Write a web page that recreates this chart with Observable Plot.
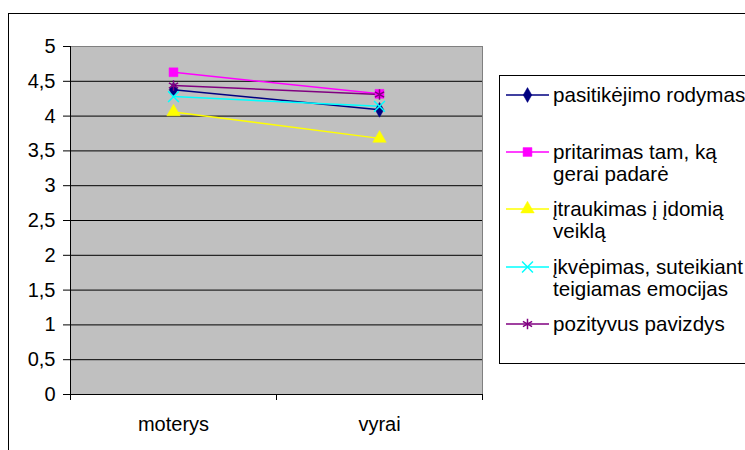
<!DOCTYPE html>
<html>
<head>
<meta charset="utf-8">
<script src="https://cdn.jsdelivr.net/npm/d3@7"></script>
<script src="https://cdn.jsdelivr.net/npm/@observablehq/plot@0.6"></script>
<style>
  body { margin: 0; background: white; }
  #wrap { position: relative; width: 745px; height: 450px; overflow: hidden; background: white;
          font-family: "Liberation Sans", Arial, sans-serif; }
  #chart { position: absolute; left: 0; top: 0; }
  #outer { position: absolute; left: 8px; top: 13px; width: 900px; height: 600px; border: 1px solid #000; pointer-events: none; }
  #legend { position: absolute; left: 499px; top: 75px; width: 400px; height: 287px; border: 1px solid #000; background: white; }
  .entry { position: absolute; left: 6px; display: flex; align-items: flex-start; }
  .entry svg { flex: none; }
  .entry span { font-size: 20.6px; line-height: 22px; white-space: pre; color: #000; margin-left: 4px; }
</style>
</head>
<body>
<div id="wrap">
  <div id="chart"></div>
  <div id="legend"></div>
  <div id="outer"></div>
</div>
<script>
const categories = ["moterys", "vyrai"];
const seriesNames = [
  "pasitikėjimo rodymas",
  "pritarimas tam, ką\ngerai padarė",
  "įtraukimas į įdomią\nveiklą",
  "įkvėpimas, suteikiant\nteigiamas emocijas",
  "pozityvus pavizdys"
];
const pasitikejimo = [4.38, 4.09];
const pritarimas = [4.63, 4.32];
const itraukimas = [4.06, 3.68];
const ikvepimas = [4.28, 4.14];
const pozityvus = [4.44, 4.31];
const seriesValues = [pasitikejimo, pritarimas, itraukimas, ikvepimas, pozityvus];
const seriesColors = ["#000080", "#ff00ff", "#ffff00", "#00ffff", "#800080"];
const seriesSymbols = ["diamond", "square", "triangle", "times", "asterisk"];
const yTicks = [0, 0.5, 1, 1.5, 2, 2.5, 3, 3.5, 4, 4.5, 5];

const filledSymbols = new Set(["diamond", "square", "triangle"]);
const d3Symbols = {diamond: d3.symbolDiamond, square: d3.symbolSquare, triangle: d3.symbolTriangle, times: d3.symbolTimes, asterisk: d3.symbolAsterisk};
const symbolR = {diamond: 4.5, square: 5, triangle: 5, times: 5, asterisk: 5};

const rows = [];
seriesNames.forEach((s, si) => {
  categories.forEach((c, ci) => rows.push({series: si, cat: ci + 0.5, value: seriesValues[si][ci]}));
});

const marks = [
  Plot.frame({fill: "#c0c0c0", stroke: "#808080"}),
  Plot.ruleY(yTicks.filter(t => t > 0 && t < 5), {stroke: "#000", strokeWidth: 1}),
  Plot.ruleY([0], {stroke: "#000"}),
  Plot.ruleX([0], {stroke: "#000"}),
  Plot.axisY({ticks: yTicks, tickSize: 7, tickPadding: 8, tickFormat: d => String(d).replace(".", ","), label: null, fontSize: 20}),
  Plot.axisX({ticks: d3.range(categories.length + 1), tickSize: 6, tickFormat: () => "", label: null}),
  Plot.axisX({ticks: categories.map((c, i) => i + 0.5), tickSize: 0, tickPadding: 22, tickFormat: d => categories[d - 0.5], label: null, fontSize: 20})
];
seriesNames.forEach((s, si) => {
  const data = rows.filter(r => r.series === si);
  marks.push(Plot.line(data, {x: "cat", y: "value", stroke: seriesColors[si], strokeWidth: 1.5}));
});
seriesNames.forEach((s, si) => {
  const data = rows.filter(r => r.series === si);
  const sym = seriesSymbols[si];
  const filled = filledSymbols.has(sym);
  marks.push(Plot.dot(data, {x: "cat", y: "value", symbol: sym, r: symbolR[sym],
    fill: filled ? seriesColors[si] : "none", stroke: seriesColors[si], strokeWidth: filled ? 0.5 : 1.5}));
});

const chart = Plot.plot({
  width: 745, height: 450,
  marginLeft: 70, marginRight: 263, marginTop: 46, marginBottom: 56,
  x: {type: "linear", domain: [0, categories.length]},
  y: {domain: [0, 5]},
  style: {fontFamily: "Liberation Sans, Arial, sans-serif", fontSize: "20px", color: "#000", background: "transparent"},
  marks
});
document.getElementById("chart").appendChild(chart);

// legend
const legend = document.getElementById("legend");
const entryTops = [0, 1, 2, 3, 4].map(i => 8 + i * 57.2);
seriesNames.forEach((s, si) => {
  const div = document.createElement("div");
  div.className = "entry";
  div.style.top = entryTops[si] + "px";
  const sym = seriesSymbols[si];
  const filled = filledSymbols.has(sym);
  const r = symbolR[sym];
  const path = d3.symbol(d3Symbols[sym], r * r * Math.PI)();
  div.innerHTML = `<svg width="43" height="22"><line x1="0" x2="43" y1="11" y2="11" stroke="${seriesColors[si]}" stroke-width="1.5"/>` +
    `<path transform="translate(21.5,11)" d="${path}" fill="${filled ? seriesColors[si] : "none"}" stroke="${seriesColors[si]}" stroke-width="${filled ? 0.5 : 1.5}"/></svg>`;
  const span = document.createElement("span");
  span.textContent = s;
  div.appendChild(span);
  legend.appendChild(div);
});
</script>
</body>
</html>
